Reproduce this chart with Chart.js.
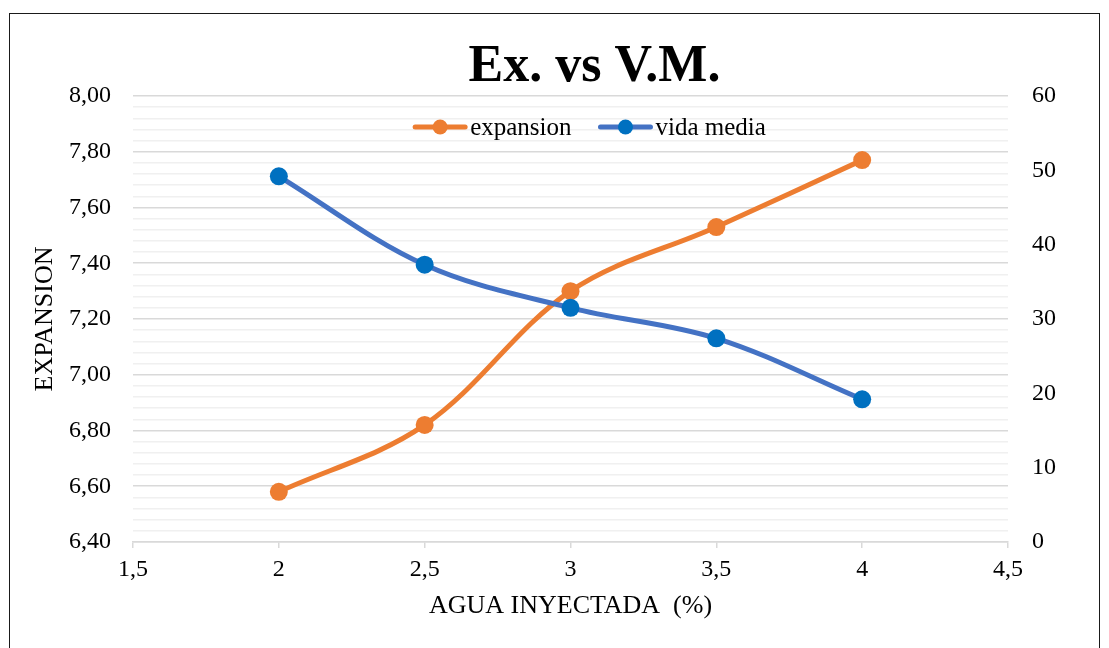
<!DOCTYPE html>
<html>
<head>
<meta charset="utf-8">
<script src="https://cdn.jsdelivr.net/npm/chart.js@4.4.1/dist/chart.umd.min.js"></script>
<style>
  html, body { margin: 0; padding: 0; background: #fff; overflow: hidden; }
  #marco {
    position: absolute; left: 9px; top: 13px; width: 1091px; height: 700px;
    box-sizing: border-box; border: 1.5px solid #1a1a1a;
  }
  #grafico { position: absolute; left: 0; top: 0; }
</style>
</head>
<body>
<div id="marco"></div>
<canvas id="grafico" width="1109" height="648"></canvas>
<script>
// datos
var aguaInyectada = [2, 2.5, 3, 3.5, 4];
var expansion = [6.58, 6.82, 7.30, 7.53, 7.77];
var vidaMedia = [49.2, 37.3, 31.5, 27.4, 19.2];
var nombres = ["expansion", "vida media"];
var titulo = "Ex. vs V.M.";
var tituloX = "AGUA INYECTADA  (%)";
var tituloY = "EXPANSION";

var fuente = "'Liberation Serif', 'Times New Roman', serif";
var naranja = "#ED7D31";
var azulLinea = "#4472C4";
var azulPunto = "#0070C0";

function puntos(vals) {
    return aguaInyectada.map(function(x, i){ return {x: x, y: vals[i]}; });
}

function coma(v, dec) {
    return v.toFixed(dec).replace(".", ",");
}

function esMayor(v) {
    return Math.round((v - 6.4) / 0.04) % 5 === 0;
}

// titulo grande y leyenda dentro del area de trazado
var cabecera = {
    id: "cabecera",
    afterDraw: function(chart){
        var ctx = chart.ctx, a = chart.chartArea;
        var cx = (a.left + a.right) / 2;
        ctx.save();
        ctx.font = "bold 52px " + fuente;
        ctx.fillStyle = "#000";
        ctx.textAlign = "center";
        ctx.textBaseline = "middle";
        ctx.fillText(titulo, cx + 24, 68);

        // leyenda: linea + circulo + texto
        ctx.font = "25px " + fuente;
        ctx.textAlign = "left";
        var icono = 54, hueco = 3, sep = 27;
        var sets = chart.data.datasets;
        var anchos = sets.map(function(d){ return icono + hueco + ctx.measureText(d.label).width; });
        var total = anchos.reduce(function(s, w){ return s + w; }, 0) + sep * (sets.length - 1);
        var x = cx + 19 - total / 2, y = a.top + 31;
        sets.forEach(function(d, i){
            ctx.strokeStyle = d.borderColor;
            ctx.lineWidth = 5;
            ctx.lineCap = "round";
            ctx.beginPath(); ctx.moveTo(x + 2, y); ctx.lineTo(x + icono - 2, y); ctx.stroke();
            ctx.fillStyle = d.pointBackgroundColor;
            ctx.beginPath(); ctx.arc(x + icono / 2, y, 7.5, 0, Math.PI * 2); ctx.fill();
            ctx.fillStyle = "#000";
            ctx.fillText(d.label, x + icono + hueco, y + 1);
            x += anchos[i] + sep;
        });
        ctx.restore();
    }
};

var ctx = document.getElementById("grafico");
var grafico = new Chart(ctx, {
    type: "line",
    data: {
        datasets: [{
            label: nombres[0],
            data: puntos(expansion),
            yAxisID: "y",
            borderColor: naranja,
            backgroundColor: naranja,
            pointBackgroundColor: naranja,
            borderWidth: 5,
            pointRadius: 9,
            pointBorderWidth: 0,
            tension: 0.35,
            order: 1
        }, {
            label: nombres[1],
            data: puntos(vidaMedia),
            yAxisID: "y1",
            borderColor: azulLinea,
            backgroundColor: azulPunto,
            pointBackgroundColor: azulPunto,
            borderWidth: 5,
            pointRadius: 9,
            pointBorderWidth: 0,
            tension: 0.35,
            order: 0
        }]
    },
    options: {
        responsive: false,
        animation: false,
        layout: { padding: { left: 30, right: 41, top: 96, bottom: 0 } },
        plugins: {
            tooltip: { enabled: false },
            title: { display: false },
            legend: { display: false }
        },
        scales: {
            x: {
                type: "linear",
                min: 1.5, max: 4.5,
                ticks: {
                    stepSize: 0.5,
                    padding: 7,
                    color: "#000",
                    font: { family: fuente, size: 24 },
                    callback: function(v){ return Number.isInteger(v) ? String(v) : coma(v, 1); }
                },
                grid: { drawOnChartArea: false, drawTicks: true, tickLength: 6, color: "#d9d9d9", lineWidth: 1.5 },
                border: { display: true, color: "#d9d9d9", width: 1.5 },
                title: {
                    display: true, text: tituloX, color: "#000",
                    font: { family: fuente, size: 26 },
                    padding: { top: 0, bottom: 26 }
                },
                afterFit: function(s){ s.height = 106; }
            },
            y: {
                position: "left",
                min: 6.4, max: 8.0,
                ticks: {
                    stepSize: 0.04,
                    autoSkip: false,
                    padding: 22,
                    color: "#000",
                    font: { family: fuente, size: 24 },
                    callback: function(v){ return esMayor(v) ? coma(v, 2) : ""; }
                },
                grid: {
                    drawTicks: false,
                    color: function(c){ return esMayor(c.tick.value) ? "#d9d9d9" : "#f0f0f0"; },
                    lineWidth: 1.5
                },
                border: { display: false },
                title: {
                    display: true, text: tituloY, color: "#000",
                    font: { family: fuente, size: 26 },
                    padding: 0
                },
                afterFit: function(s){ s.width = 103; }
            },
            y1: {
                position: "right",
                min: 0, max: 60,
                ticks: {
                    stepSize: 10,
                    padding: 24,
                    color: "#000",
                    font: { family: fuente, size: 24 }
                },
                grid: { display: false, drawOnChartArea: false, drawTicks: false },
                border: { display: false },
                afterFit: function(s){ s.width = 60; }
            }
        }
    },
    plugins: [cabecera]
});
</script>
</body>
</html>
